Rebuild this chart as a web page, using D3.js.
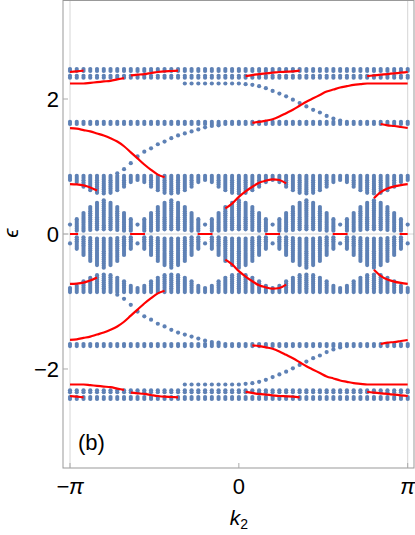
<!DOCTYPE html>
<html><head><meta charset="utf-8">
<script src="https://cdn.jsdelivr.net/npm/d3@7"></script>
<style>body{margin:0;background:#fff}svg{display:block}</style>
</head><body><svg id="c" width="415" height="535"></svg>
<script>
// ---- data (upper half, energies mirrored e -> -e) ----
const nK = 50; // k-grid intervals from -pi to pi (51 columns)
const xTickValues = [-Math.PI, 0, Math.PI];
const xTickLabels = ["\u2212\u03c0", "0", "\u03c0"];
const yTickValues = [-2, 0, 2];
const yTickLabels = ["\u22122", "0", "2"];

// central lobed band: upper/lower edge per column
const bandAHi = [0.14,0.22,0.31,0.40,0.46,0.50,0.46,0.40,0.31,0.22,
                 0.14,0.22,0.31,0.40,0.46,0.50,0.46,0.40,0.31,0.22,
                 0.14,0.22,0.31,0.40,0.46,0.50,0.46,0.40,0.31,0.22,
                 0.14,0.22,0.31,0.40,0.46,0.50,0.46,0.40,0.31,0.22,
                 0.14,0.22,0.31,0.40,0.46,0.50,0.46,0.40,0.31,0.22,0.14];
const bandALo = [0.14,0.05,0.05,0.06,0.07,0.07,0.07,0.06,0.05,0.05,
                 0.14,0.05,0.05,0.06,0.07,0.07,0.07,0.06,0.05,0.05,
                 0.14,0.05,0.05,0.06,0.07,0.07,0.07,0.06,0.05,0.05,
                 0.14,0.05,0.05,0.06,0.07,0.07,0.07,0.06,0.05,0.05,
                 0.14,0.05,0.05,0.06,0.07,0.07,0.07,0.06,0.05,0.05,0.14];
// band near 0.75
const bandBLo = [0.80,0.77,0.70,0.65,0.61,0.60,0.61,0.65,0.70,0.77,
                 0.80,0.77,0.70,0.65,0.61,0.60,0.61,0.65,0.70,0.77,
                 0.80,0.77,0.70,0.65,0.61,0.60,0.61,0.65,0.70,0.77,
                 0.80,0.77,0.70,0.65,0.61,0.60,0.61,0.65,0.70,0.77,
                 0.80,0.77,0.70,0.65,0.61,0.60,0.61,0.65,0.70,0.77,0.80];
const bandBHi = [0.86,0.86,0.86,0.86,0.86,0.86,0.86,0.86,0.86,0.86,
                 0.86,0.86,0.86,0.86,0.86,0.86,0.86,0.86,0.86,0.86,
                 0.86,0.86,0.86,0.86,0.86,0.86,0.86,0.86,0.86,0.86,
                 0.86,0.86,0.86,0.86,0.86,0.86,0.86,0.86,0.86,0.86,
                 0.86,0.86,0.86,0.86,0.86,0.86,0.86,0.86,0.86,0.86,0.86];
// flat bands (rows of dots at every column)
const bandCRows = [1.63, 1.66];
const bandTRows = [2.315, 2.345, 2.415, 2.445];
// blue edge-state branches: start column + energies
const blueD1Start = 7;
const blueD1 = [0.90,0.96,1.05,1.15,1.22,1.27,1.33,1.37,1.42,1.46,1.49,1.52,1.55,1.58,1.60,1.61];
const blueD2Start = 17;
const blueD2 = [2.23,2.23,2.23,2.23,2.23,2.23,2.23,2.23,2.23,2.22,2.21,2.19,2.16,2.12,2.08,2.04,
                1.99,1.94,1.89,1.84,1.80,1.75,1.71,1.68];
// red edge-state branches
const redR1 = [1.57,1.56,1.54,1.52,1.49,1.46,1.42,1.37,1.30,1.21,1.12,1.03,0.95,0.88,0.84];
const redR1b = [1.63,1.61,1.60,1.585,1.57];
const redR2 = [1.65,1.66,1.68,1.70,1.74,1.79,1.84,1.90,1.96,2.01,2.06,2.11,2.14,2.17,2.19,2.21,
               2.22,2.23,2.23,2.23,2.23,2.23,2.23,2.23];
const redR3 = [2.23,2.23,2.23,2.24,2.25,2.26,2.27,2.29,2.31];
const redS1 = [2.35,2.36,2.37,2.385,2.40,2.41,2.415,2.42];
const redS2 = [2.34,2.355,2.37,2.38,2.39,2.40,2.405,2.41,2.42];
const redS3 = [2.34,2.35,2.36,2.37,2.38,2.39,2.40];
const redS3b = [2.40,2.41,2.42];
const redR4 = [0.74,0.735,0.72,0.69,0.645];
const redR5 = [0.53,0.62,0.675,0.705,0.725,0.74];
const redR6 = [0.38,0.45,0.55,0.63,0.70,0.76,0.79,0.81,0.80,0.75];
const redStarts = [0, 46, 27, 0, 9, 26, 44, 0, 0, 45, 23];
const redCurves = [redR1, redR1b, redR2, redR3, redS1, redS2, redS3, redS3b, redR4, redR5, redR6];
// red zero-energy pieces: [from column, to column]
const redZero = [[0,1.2],[8.9,11.1],[18.9,21.1],[28.9,31.1],[38.9,41.1],[48.8,50]];

// ---- drawing ----
const svg = d3.select("#c");
const L = 63, R = 414, T = 0.5, B = 468;
const x = d3.scaleLinear().domain([-Math.PI, Math.PI]).range([70, 407.7]);
const y = d3.scaleLinear().domain([-3.467, 3.467]).range([B, 0]);
const kOf = j => -Math.PI + j * 2 * Math.PI / nK;
const blue = "#5E81B5", red = "#f00";
const font = "'Liberation Sans', Arial, sans-serif";

svg.append("defs").append("clipPath").attr("id","cp")
  .append("rect").attr("x",L).attr("y",T).attr("width",R-L).attr("height",B-T);

// grid lines
const grid = svg.append("g").attr("stroke","#d6d6d6").attr("stroke-width",1);
[-Math.PI, Math.PI].forEach(v => grid.append("line").attr("x1",x(v)).attr("x2",x(v)).attr("y1",T).attr("y2",B));
grid.append("line").attr("x1",L).attr("x2",R).attr("y1",y(0)).attr("y2",y(0));

// collect blue points
const pts = [];
const step = 0.03;
function column(j, lo, hi) {
  const n = Math.max(1, Math.round((hi - lo) / step) + 1);
  for (let i = 0; i < n; i++) {
    const e = n === 1 ? lo : lo + (hi - lo) * i / (n - 1);
    pts.push([kOf(j), e]);
  }
}
d3.range(nK + 1).forEach(j => {
  column(j, bandALo[j], bandAHi[j]);
  column(j, bandBLo[j], bandBHi[j]);
  bandCRows.forEach(e => pts.push([kOf(j), e]));
  bandTRows.forEach(e => pts.push([kOf(j), e]));
});
blueD1.forEach((e,i) => pts.push([kOf(blueD1Start+i), e]));
blueD2.forEach((e,i) => pts.push([kOf(blueD2Start+i), e]));

const plot = svg.append("g").attr("clip-path","url(#cp)");
plot.append("g").attr("fill", blue)
  .selectAll("circle").data(pts.concat(pts.map(p => [p[0], -p[1]])))
  .join("circle").attr("cx", d => x(d[0])).attr("cy", d => y(d[1])).attr("r", 2.1);

// red lines
const line = d3.line().x(d => x(d[0])).y(d => y(d[1])).curve(d3.curveMonotoneX);
const redG = plot.append("g").attr("fill","none").attr("stroke",red).attr("stroke-width",2.2);
redCurves.forEach((arr, ci) => {
  const p = arr.map((e,i) => [kOf(redStarts[ci]+i), e]);
  redG.append("path").attr("d", line(p));
  redG.append("path").attr("d", line(p.map(q => [q[0], -q[1]])));
});
redZero.forEach(([a,b]) => redG.append("path").attr("d", line([[kOf(a),0],[kOf(b),0]])));

// frame
svg.append("rect").attr("x",L).attr("y",T).attr("width",R-L).attr("height",B-T)
  .attr("fill","none").attr("stroke","#999").attr("stroke-width",1);

// ticks
const tk = svg.append("g").attr("stroke","#aaa").attr("stroke-width",1);
xTickValues.forEach(v => tk.append("line").attr("x1",x(v)).attr("x2",x(v)).attr("y1",B).attr("y2",B-5));
yTickValues.forEach(v => tk.append("line").attr("x1",L).attr("x2",L+5).attr("y1",y(v)).attr("y2",y(v)));

// tick labels
xTickValues.forEach((v,i) => svg.append("text").attr("x",x(v)).attr("y",494)
  .attr("text-anchor","middle").attr("font-family",font).attr("font-size",22)
  .attr("font-style", i===1 ? "normal" : "italic").text(xTickLabels[i]));
yTickValues.forEach((v,i) => svg.append("text").attr("x",59).attr("y",y(v)).attr("dy","0.36em")
  .attr("text-anchor","end").attr("font-family",font).attr("font-size",22).text(yTickLabels[i]));

// axis labels
const kl = svg.append("text").attr("x",239).attr("y",525).attr("text-anchor","middle")
  .attr("font-family",font).attr("font-size",21);
kl.append("tspan").attr("font-style","italic").text("k");
kl.append("tspan").attr("font-size",14).attr("dy",4).text("2");
svg.append("text").attr("transform","translate(18,233) rotate(-90)").attr("text-anchor","middle")
  .attr("font-family",font).attr("font-size",21).attr("font-style","italic").text("\u03f5");
svg.append("text").attr("x",78).attr("y",450).attr("font-family",font).attr("font-size",22).text("(b)");
</script></body></html>
